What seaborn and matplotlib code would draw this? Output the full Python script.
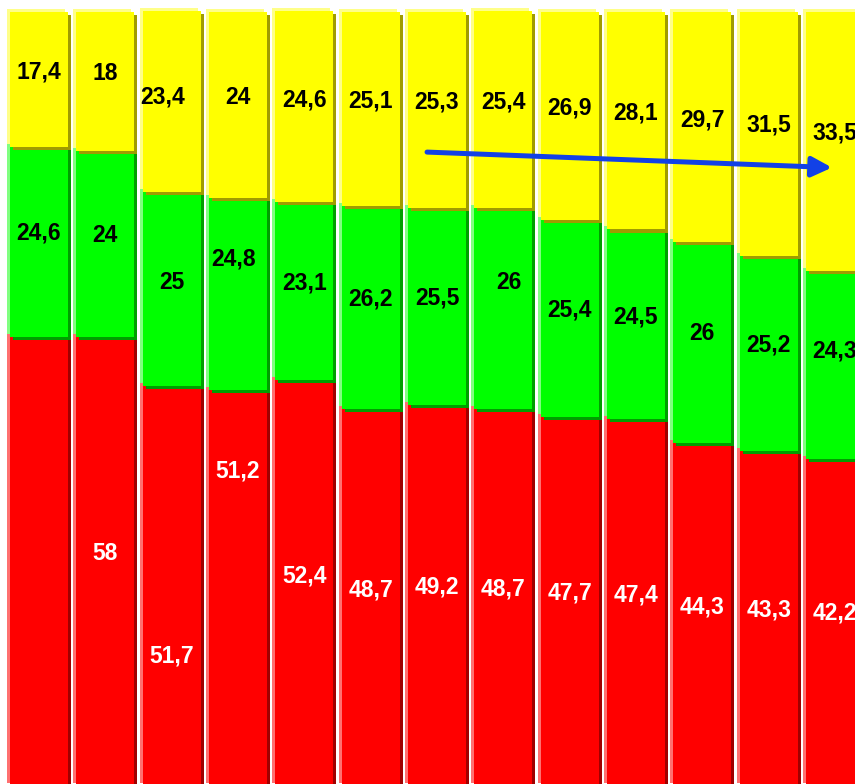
import numpy as np
import matplotlib
matplotlib.use("Agg")
import matplotlib.pyplot as plt
import seaborn as sns

# values per bar, bottom-up: red, green, yellow (percent)
red = [58, 58, 51.7, 51.2, 52.4, 48.7, 49.2, 48.7, 47.7, 47.4, 44.3, 43.3, 42.2]
green = [24.6, 24, 25, 24.8, 23.1, 26.2, 25.5, 26, 25.4, 24.5, 26, 25.2, 24.3]
yellow = [17.4, 18, 23.4, 24, 24.6, 25.1, 25.3, 25.4, 26.9, 28.1, 29.7, 31.5, 33.5]
show_red_label = [False] + [True] * 12

# where the labels sit (percent height), as placed in the original slide
label_y_red = [None, 30.1, 16.8, 40.7, 27.1, 25.3, 25.7, 25.5, 24.9, 24.7, 23.1, 22.7, 22.4]
label_y_green = [71.4, 71.1, 65.1, 68.1, 65.0, 62.9, 63.0, 65.0, 61.5, 60.6, 58.4, 57.0, 56.2]
label_y_yellow = [92.2, 92.1, 89.0, 89.0, 88.6, 88.5, 88.4, 88.4, 87.6, 87.0, 86.0, 85.4, 84.4]
nudge_x = {("yellow", 2): -0.14, ("green", 3): -0.06, ("green", 7): 0.08}

sns.set_style("white")

fig = plt.figure(figsize=(8.55, 7.84), dpi=100)
ax = fig.add_axes([0, 0, 1, 1])

pos = np.arange(len(red), dtype=float)
red_a = np.array(red)
green_a = np.array(green)
yellow_a = np.array(yellow)

layers = [
    ("red", red_a, np.zeros_like(red_a), "#FF0000", "#FF7070", "#A00000"),
    ("green", green_a, red_a, "#00FF00", "#80FF80", "#009E00"),
    ("yellow", yellow_a, red_a + green_a, "#FFFF00", "#FFFF88", "#A09C00"),
]

bar_w = 0.874
dx = 0.045   # ~3 px sideways
dy = 0.39    # ~3 px up/down

for name, h, b, main, light, dark in layers:
    # highlight up-left, shadow down-right, then the face
    for shift_x, shift_y, col in [(-dx, dy, light), (dx, -dy, dark), (0, 0, main)]:
        sns.barplot(x=pos + shift_x, y=h, bottom=b + shift_y, native_scale=True,
                    orient="x", width=bar_w, color=col, saturation=1,
                    errorbar=None, linewidth=0, ax=ax)

font = dict(family="Liberation Sans", fontsize=16.5, fontweight="bold",
            ha="center", va="center")

for i in range(len(pos)):
    ax.text(pos[i] + nudge_x.get(("yellow", i), 0), label_y_yellow[i],
            f"{yellow[i]:g}".replace(".", ","), color="black", **font)
    ax.text(pos[i] + nudge_x.get(("green", i), 0), label_y_green[i],
            f"{green[i]:g}".replace(".", ","), color="black", **font)
    if show_red_label[i]:
        ax.text(pos[i], label_y_red[i], f"{red[i]:g}".replace(".", ","),
                color="white", **font)

# trend arrow across the yellow band
ax.annotate("", xy=(11.955, 79.9), xytext=(5.85, 81.9),
            arrowprops=dict(arrowstyle="-|>,head_length=0.6,head_width=0.3",
                            color="#1241E6", lw=3.6, mutation_scale=20,
                            shrinkA=0, shrinkB=0))

ax.set_xlim(-0.588, 12.302)
ax.set_ylim(0.258, 101.55)
ax.axis("off")

fig.savefig("out.png", dpi=100)
